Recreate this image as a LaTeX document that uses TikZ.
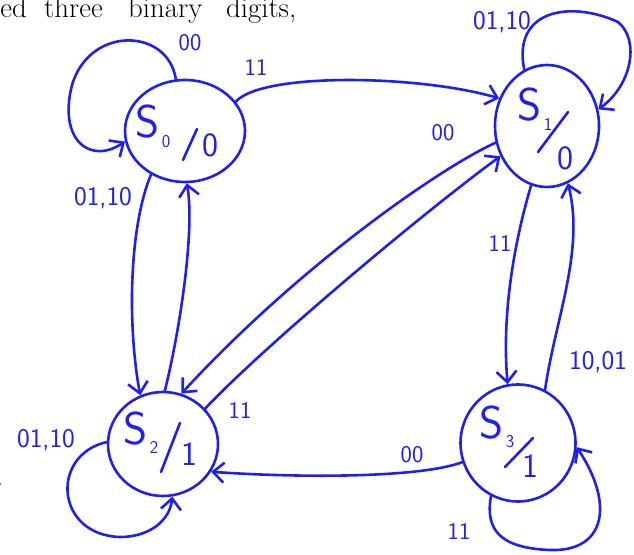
\documentclass[tikz,border=0pt]{standalone}
\usepackage{fontspec}
\usetikzlibrary{shapes.geometric,arrows.meta}
\definecolor{ink}{RGB}{32,32,238}
\begin{document}
\begin{tikzpicture}[x=1pt,y=-1pt,
  statebox/.style={ellipse,draw=ink,line width=2.6pt,inner sep=0pt},
  edge/.style={draw=ink,line width=2.6pt,line cap=round,line join=round,
    -{Straight Barb[length=11pt,width=20pt]}},
  plain/.style={draw=ink,line width=2.6pt,line cap=round},
  lbl/.style={text=ink,inner sep=0pt,font=\sffamily\fontsize{24}{26}\selectfont},
  pair/.style={text=ink,inner sep=0pt,font=\sffamily\fontsize{27}{29}\selectfont},
  bigS/.style={text=ink,inner sep=0pt,font=\sffamily\fontsize{46}{48}\selectfont},
  subidx/.style={text=ink,inner sep=0pt,font=\sffamily\fontsize{18}{20}\selectfont},
  outdig/.style={text=ink,inner sep=0pt,font=\sffamily\fontsize{34}{36}\selectfont},
  prose/.style={text=black,inner sep=0pt,font=\fontsize{28.8}{32}\selectfont}]
\useasboundingbox (0,0) rectangle (634,554);
\clip (0,0) rectangle (634,554);

% cropped prose text
\node[prose,anchor=base east] (w1) at (27,17) {ed};
\node[prose,anchor=base west] (w2) at (44,17) {three};
\node[prose,anchor=base west] (w3) at (128,17) {binary};
\node[prose,anchor=base west] (w4) at (226,17) {digits,};
\node[prose,anchor=base east] (dot) at (3.5,485) {.};

% states
\node[statebox,minimum width=120pt,minimum height=102pt] (s0) at (185,131) {};
\node[statebox,minimum width=104pt,minimum height=122pt] (s1) at (547,126) {};
\node[statebox,minimum width=110pt,minimum height=104pt] (s2) at (163,444) {};
\node[statebox,minimum width=115pt,minimum height=117pt] (s3) at (518,443) {};

% state contents
\node[bigS] (s0S) at (148,122) {S};
\node[subidx] (s0i) at (166,142) {0};
\draw[plain] (183,160) -- (197,129);
\node[outdig] (s0o) at (210,145) {0};

\node[bigS] (s1S) at (529,105) {S};
\node[subidx] (s1i) at (548,124) {1};
\draw[plain] (538,152) -- (568,112);
\node[outdig] (s1o) at (565,158) {0};

\node[bigS] (s2S) at (136,429) {S};
\node[subidx] (s2i) at (154,447) {2};
\draw[plain] (161,472) -- (180,423);
\node[outdig] (s2o) at (189,454) {1};

\node[bigS] (s3S) at (491,423) {S};
\node[subidx] (s3i) at (510,442) {3};
\draw[plain] (505,467) -- (533,438);
\node[outdig] (s3o) at (530,466) {1};

% transitions
\draw[edge] (s0.30) .. controls (262,72) and (420,75) .. (s1.150);
\draw[edge] (s0.100) .. controls (168,28) and (90,25) .. (72,85)
            .. controls (58,140) and (90,165) .. (s0.190);
\draw[edge] (s1.112) .. controls (512,10) and (570,0) .. (618,22)
            .. controls (640,40) and (632,85) .. (s1.18);
\draw[edge] (s1.198) .. controls (440,168) and (300,265) .. (s2.70);
\draw[edge] (s2.40) .. controls (260,350) and (420,215) .. (s1.213);
\draw[edge] (s0.232) .. controls (128,230) and (128,330) .. (s2.115);
\draw[edge] (s2.88) .. controls (180,330) and (195,230) .. (s0.272);
\draw[edge] (s1.255) .. controls (512,250) and (502,320) .. (s3.100);
\draw[edge] (s3.63) .. controls (555,320) and (585,250) .. (s1.290);
\draw[edge] (s3.199) .. controls (420,478) and (300,478) .. (s2.330);
\draw[edge] (s2.178) .. controls (50,455) and (55,535) .. (120,537)
            .. controls (150,537) and (170,520) .. (s2.280);
\draw[edge] (s3.243) .. controls (485,530) and (500,548) .. (550,550)
            .. controls (605,552) and (615,505) .. (s3.356);

% labels
\node[lbl] (l01) at (256,67) {11};
\node[lbl] (l00) at (190,43) {00};
\node[pair] (l11) at (502,22) {01,10};
\node[lbl] (l10) at (443,133) {00};
\node[lbl] (l12) at (240,410) {11};
\node[pair] (l02) at (103,198) {01,10};
\node[lbl] (l13) at (500,243) {11};
\node[pair] (l31) at (598,362) {10,01};
\node[lbl] (l32) at (412,455) {00};
\node[pair] (l22) at (46,440) {01,10};
\node[lbl] (l33) at (459,531) {11};
\end{tikzpicture}
\end{document}
